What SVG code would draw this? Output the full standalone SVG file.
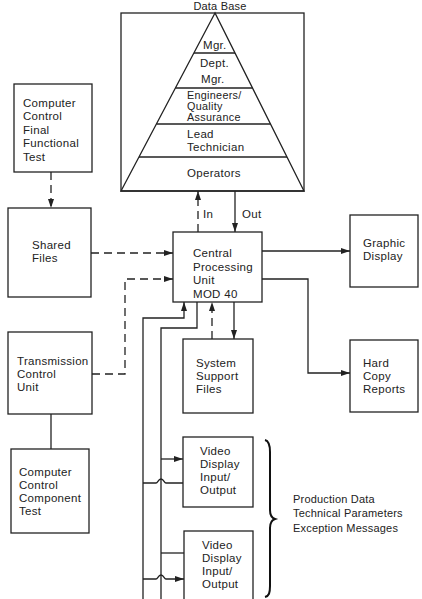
<svg xmlns="http://www.w3.org/2000/svg" width="422" height="599" viewBox="0 0 422 599">
<style>
.box{fill:#fff;stroke:#222;stroke-width:1.3}
.ln{fill:none;stroke:#222;stroke-width:1.3}
.dash{fill:none;stroke:#222;stroke-width:1.3;stroke-dasharray:8 5}
text{font-family:"Liberation Sans",Arial,sans-serif;font-size:11.5px;fill:#222;letter-spacing:0.3px}
.sm{font-size:11px;letter-spacing:0.2px}
.tight{font-size:10.8px}
</style>
<defs>
<marker id="ah" markerWidth="9" markerHeight="6" refX="9" refY="3" orient="auto" markerUnits="userSpaceOnUse">
<path d="M0,0 L9,3 L0,6 z" fill="#222"/>
</marker>
</defs>
<rect width="422" height="599" fill="#fff"/>

<g id="database">
<text x="220" y="10" text-anchor="middle" class="sm">Data Base</text>
<rect class="box" x="121" y="13" width="183" height="178"/>
<polygon class="ln" points="215,13 121,191 304,191"/>
<line class="ln" x1="194" y1="53" x2="235" y2="53"/>
<line class="ln" x1="175.5" y1="88" x2="252.5" y2="88"/>
<line class="ln" x1="156.5" y1="124" x2="270.5" y2="124"/>
<line class="ln" x1="139" y1="157" x2="287" y2="157"/>
<text x="203" y="49">Mgr.</text>
<text x="200" y="67">Dept.</text>
<text x="201" y="83">Mgr.</text>
<text x="187" y="99" class="tight">Engineers/</text>
<text x="187" y="110" class="tight">Quality</text>
<text x="187" y="121" class="tight">Assurance</text>
<text x="187" y="138">Lead</text>
<text x="187" y="151">Technician</text>
<text x="187" y="177">Operators</text>
</g>

<g id="final-test">
<rect class="box" x="14" y="84" width="78" height="88"/>
<text x="23" y="107">Computer</text>
<text x="23" y="120">Control</text>
<text x="23" y="134">Final</text>
<text x="23" y="147">Functional</text>
<text x="23" y="161">Test</text>
</g>

<g id="shared-files">
<rect class="box" x="8" y="208" width="83" height="89"/>
<text x="32" y="249">Shared</text>
<text x="32" y="262">Files</text>
</g>

<g id="cpu">
<rect class="box" x="173" y="232" width="89" height="70"/>
<text x="193" y="257">Central</text>
<text x="193" y="271">Processing</text>
<text x="193" y="284">Unit</text>
<text x="193" y="298">MOD 40</text>
</g>

<g id="graphic-display">
<rect class="box" x="350" y="215" width="68" height="72"/>
<text x="363" y="247">Graphic</text>
<text x="363" y="260">Display</text>
</g>

<g id="hard-copy">
<rect class="box" x="350" y="340" width="68" height="72"/>
<text x="363" y="367">Hard</text>
<text x="363" y="380">Copy</text>
<text x="363" y="393">Reports</text>
</g>

<g id="system-support">
<rect class="box" x="183" y="339" width="70" height="74"/>
<text x="196" y="367">System</text>
<text x="196" y="380">Support</text>
<text x="196" y="393">Files</text>
</g>

<g id="transmission">
<rect class="box" x="8" y="332" width="84" height="82"/>
<text x="17" y="365">Transmission</text>
<text x="17" y="378">Control</text>
<text x="17" y="391">Unit</text>
</g>

<g id="component-test">
<rect class="box" x="11" y="449" width="78" height="84"/>
<text x="19" y="476">Computer</text>
<text x="19" y="489">Control</text>
<text x="19" y="502">Component</text>
<text x="19" y="515">Test</text>
</g>

<g id="video1">
<rect class="box" x="183" y="437" width="70" height="70"/>
<text x="200" y="455">Video</text>
<text x="200" y="468">Display</text>
<text x="200" y="481">Input/</text>
<text x="200" y="494">Output</text>
</g>

<g id="video2">
<rect class="box" x="184" y="531" width="69" height="75"/>
<text x="202" y="549">Video</text>
<text x="202" y="562">Display</text>
<text x="202" y="575">Input/</text>
<text x="202" y="588">Output</text>
</g>

<g id="data-label">
<path d="M265,440 C269,441 270,445 270,452 L270,510 C270,515 272,518 275,519 C272,520 270,523 270,528 L270,586 C270,593 269,596 265,597" fill="none" stroke="#111" stroke-width="2"/>
<text x="293" y="503" class="sm">Production Data</text>
<text x="293" y="517" class="sm">Technical Parameters</text>
<text x="293" y="532" class="sm">Exception Messages</text>
</g>

<g id="connectors">
<line class="dash" x1="51" y1="172" x2="51" y2="208" marker-end="url(#ah)"/>
<line class="dash" x1="91" y1="253" x2="173" y2="253" marker-end="url(#ah)"/>
<polyline class="dash" points="92,374 125,374 125,279 173,279" marker-end="url(#ah)"/>
<line class="ln" x1="51" y1="414" x2="51" y2="449"/>
<line class="dash" x1="198" y1="232" x2="198" y2="191" marker-end="url(#ah)"/>
<text x="203" y="218">In</text>
<line class="ln" x1="235" y1="191" x2="235" y2="232" marker-end="url(#ah)"/>
<text x="242" y="218">Out</text>
<line class="ln" x1="262" y1="251" x2="350" y2="251" marker-end="url(#ah)"/>
<polyline class="ln" points="262,279 308,279 308,373 350,373" marker-end="url(#ah)"/>
<line class="dash" x1="212" y1="339" x2="212" y2="302" marker-end="url(#ah)"/>
<line class="ln" x1="234" y1="302" x2="234" y2="339" marker-end="url(#ah)"/>
<polyline class="ln" points="143,600 143,318 184,318 184,302" marker-end="url(#ah)"/>
<polyline class="ln" points="161,600 161,328 197,328 197,302"/>
<line class="ln" x1="161" y1="459" x2="183" y2="459" marker-end="url(#ah)"/>
<path class="ln" d="M143,483 L156,483 C158,483 158,479 161,479 C164,479 164,483 166,483 L183,483"/>
<line class="ln" x1="161" y1="553" x2="184" y2="553"/>
<path class="ln" d="M143,579 L156,579 C158,579 158,575 161,575 C164,575 164,579 166,579 L184,579" marker-end="url(#ah)"/>
</g>
</svg>
